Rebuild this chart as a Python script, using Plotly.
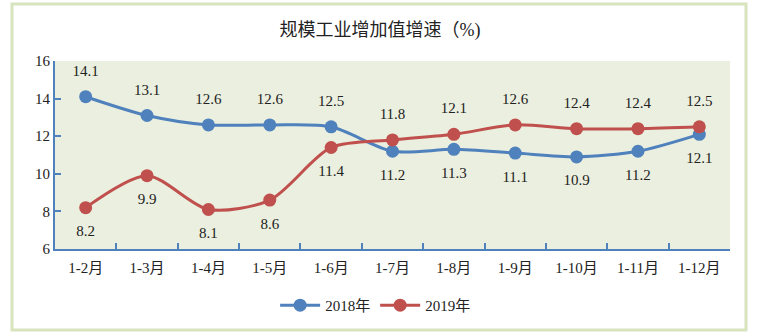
import plotly.graph_objects as go

categories = ["1-2月", "1-3月", "1-4月", "1-5月", "1-6月", "1-7月", "1-8月", "1-9月", "1-10月", "1-11月", "1-12月"]
values_2018 = [14.1, 13.1, 12.6, 12.6, 12.5, 11.2, 11.3, 11.1, 10.9, 11.2, 12.1]
values_2019 = [8.2, 9.9, 8.1, 8.6, 11.4, 11.8, 12.1, 12.6, 12.4, 12.4, 12.5]
pos_2018 = ["top center"] * 5 + ["bottom center"] * 6
pos_2019 = ["bottom center"] * 5 + ["top center"] * 6

BLUE = "#4F81BD"
RED = "#C0504D"
FONT = "Liberation Serif, Noto Sans CJK SC, serif"

fig = go.Figure()
for name, vals, pos, col in [("2018年", values_2018, pos_2018, BLUE),
                             ("2019年", values_2019, pos_2019, RED)]:
    fig.add_trace(go.Scatter(
        x=categories, y=vals, name=name, mode="lines+markers",
        line=dict(color=col, width=3, shape="spline", smoothing=0.8),
        marker=dict(color=col, size=13),
        cliponaxis=False,
    ))
for name, vals, pos, col in [("2018年", values_2018, pos_2018, BLUE),
                             ("2019年", values_2019, pos_2019, RED)]:
    fig.add_trace(go.Scatter(
        x=categories, y=vals, name=name, mode="markers+text", showlegend=False,
        marker=dict(color=col, size=26, opacity=0),
        text=[f"{v:.1f}" for v in vals], textposition=pos,
        textfont=dict(family=FONT, size=15, color="#222222"),
        hoverinfo="skip", cliponaxis=False,
    ))

fig.update_layout(
    width=757, height=336,
    margin=dict(l=55, r=27, t=61, b=87, autoexpand=False),
    paper_bgcolor="white",
    plot_bgcolor="#EBEFDF",
    font=dict(family=FONT, size=15, color="#222222"),
    title=dict(text="规模工业增加值增速（%)", x=0.502, xanchor="center", y=0.911, yanchor="middle",
               font=dict(family=FONT, size=18, color="#222222")),
    showlegend=True,
    legend=dict(orientation="h", x=0.475, xanchor="center", y=-0.30, yanchor="middle",
                font=dict(family=FONT, size=15, color="#222222"), itemwidth=40,
                bgcolor="rgba(0,0,0,0)"),
    xaxis=dict(
        range=[-0.5, 10.5],
        showgrid=False, showline=True, linecolor=BLUE, linewidth=2, automargin=False,
        ticks="inside", tickson="boundaries", ticklen=6, tickcolor=BLUE, tickwidth=2,
        tickfont=dict(family=FONT, size=15, color="#222222"), ticklabelstandoff=4,
        zeroline=False, mirror=False,
    ),
    yaxis=dict(
        range=[6, 16], dtick=2, showgrid=False, showline=True, linecolor=BLUE, linewidth=2,
        automargin=False,
        ticks="inside", ticklen=6, tickcolor=BLUE, tickwidth=2,
        tickfont=dict(family=FONT, size=15, color="#222222"),
        zeroline=False,
    ),
    shapes=[dict(type="rect", xref="paper", yref="paper",
                 x0=(12 - 55) / 675, x1=(746 - 55) / 675,
                 y0=(249 - 330) / 188, y1=(249 - 4) / 188,
                 line=dict(color="#D7E4BD", width=3), fillcolor="rgba(0,0,0,0)", layer="below")],
)

fig.write_html("out.html")
